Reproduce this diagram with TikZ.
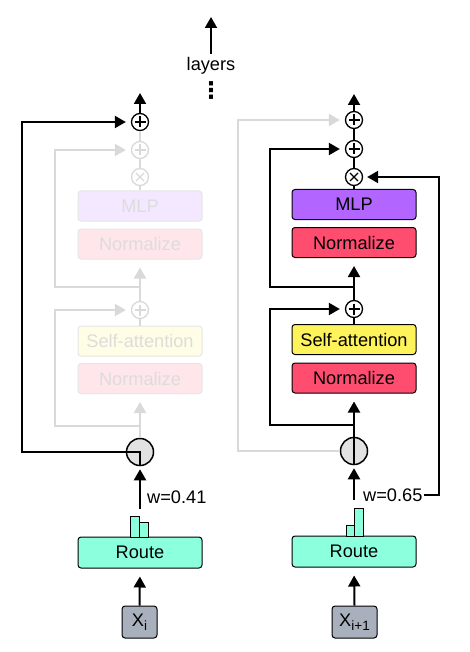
\documentclass[tikz,border=0pt]{standalone}
\usepackage{fontspec}
\setmainfont{Liberation Sans}
\newfontfamily\dejavu{DejaVu Sans}
\usetikzlibrary{arrows.meta}
\definecolor{routec}{HTML}{8CFFDC}
\definecolor{mlpc}{HTML}{B266FF}
\definecolor{normc}{HTML}{FF4D70}
\definecolor{attc}{HTML}{FFF35C}
\definecolor{xc}{HTML}{A9B0BD}
\definecolor{circc}{HTML}{E2E2E2}
\definecolor{faintline}{HTML}{D9D9D9}
\definecolor{faintmlp}{HTML}{F3E8FF}
\definecolor{faintnorm}{HTML}{FFE6EB}
\definecolor{faintatt}{HTML}{FFFDE6}
\definecolor{faintborder}{HTML}{E6E6E6}
\definecolor{fainttext}{HTML}{DCDCDC}
\newcommand{\subsc}[1]{\raisebox{-4.5pt}{\fontsize{13.5}{14}\selectfont #1}}
\begin{document}
\begin{tikzpicture}[x=1pt,y=-1pt,
  txt/.style={font=\fontsize{18.2}{20}\selectfont},
  blk/.style={draw, rounded corners=3pt, line width=1pt, minimum width=124pt, minimum height=30pt, inner sep=0pt, txt},
  fnt/.style={blk, draw=faintborder, text=fainttext},
  xbox/.style={draw, rounded corners=3pt, line width=1pt, fill=xc, minimum width=35pt, minimum height=32pt, inner sep=0pt, txt},
  op/.style={circle, draw=#1, line width=1.3pt, minimum size=17pt, inner sep=0pt, fill=white},
  op/.default=black,
  plusop/.style={op=#1, path picture={\draw[line width=1.2pt,#1]
      ([xshift=3pt]path picture bounding box.west) -- ([xshift=-3pt]path picture bounding box.east)
      ([yshift=-3pt]path picture bounding box.north) -- ([yshift=3pt]path picture bounding box.south);}},
  plusop/.default=black,
  timesop/.style={op=#1, path picture={\draw[line width=1.2pt,#1]
      ([xshift=4.5pt,yshift=-4.5pt]path picture bounding box.north west) -- ([xshift=-4.5pt,yshift=4.5pt]path picture bounding box.south east)
      ([xshift=-4.5pt,yshift=-4.5pt]path picture bounding box.north east) -- ([xshift=4.5pt,yshift=4.5pt]path picture bounding box.south west);}},
  timesop/.default=black,
  rcirc/.style={circle, draw, line width=1.5pt, minimum size=27pt, inner sep=0pt, fill=circc},
  ln/.style={line width=2pt},
  arr/.style={ln, -{Triangle[length=11pt,width=12pt]}},
  gln/.style={ln, draw=faintline},
  garr/.style={arr, draw=faintline},
  bar/.style={draw, fill=routec, line width=0.8pt},
  lbl/.style={txt, inner sep=1pt, anchor=west}
]
\fill[white] (0,0) rectangle (470,652);
\useasboundingbox (0,0) rectangle (470,652);

% top
\coordinate (tb) at (211,54);
\coordinate (tt) at (211,17);
\draw[arr] (tb) -- (tt);
\node[txt, inner sep=0pt] (lay) at (211,66) {layers};
\node[inner sep=0pt, font=\dejavu\fontsize{23}{23}\selectfont\bfseries] (dots) at (211,91) {⋮};

% ---------------- left column ----------------
\node[plusop] (lp1) at (140,122) {};
\node[plusop=faintline] (lp2) at (140,150) {};
\node[timesop=faintline] (lt) at (140,177) {};
\node[fnt, fill=faintmlp] (lmlp) at (140,206) {MLP};
\node[fnt, fill=faintnorm] (lnorm1) at (140,244) {Normalize};
\node[plusop=faintline] (lp3) at (140,310) {};
\node[fnt, fill=faintatt] (latt) at (140,341) {Self-attention};
\node[fnt, fill=faintnorm] (lnorm2) at (140,378.5) {Normalize};
\node[rcirc] (lc) at (140,452) {};
\node[blk, fill=routec, minimum height=31pt] (lroute) at (140,552.5) {Route};
\node[xbox] (lx) at (139.5,622) {X\subsc{i}};
\node[lbl] (lwl) at (146,497) {w=0.41};

\coordinate (ltop) at (140,93);
\coordinate (lj1) at (140,287);
\coordinate (lk1) at (55,150);
\coordinate (lj2) at (140,426);
\coordinate (lk2) at (55,310);
\coordinate (lk0) at (22,122);
\coordinate (lw) at (140,509);

\draw[arr] (lp1.north) -- (ltop);
\draw[gln] (lp1.south) -- (lp2.north);
\draw[gln] (lp2.south) -- (lt.north);
\draw[gln] (lt.south) -- (lmlp.north);
\draw[garr, shorten >=8pt] (lp3.north) -- (lnorm1.south);
\draw[garr, shorten >=5pt] (lj1) -| (lk1) -- (lp2.west);
\draw[gln] (latt.north) -- (lp3.south);
\draw[garr, shorten >=8pt] (lc.north) -- (lnorm2.south);
\draw[garr, shorten >=5pt] (lj2) -| (lk2) -- (lp3.west);
\draw[arr, shorten >=5pt] (lc.south) -- (lc.center) -- (lc.center -| lk0) -- (lk0) -- (lp1.west);
\draw[arr, shorten >=3pt] (lw) -- (lc.south);
\draw[arr, shorten >=8pt] (lx.north) -- (lroute.south);
\draw[bar] (130,516) rectangle (139,537);
\draw[bar] (139,522) rectangle (148,537);

% ---------------- right column ----------------
\node[plusop] (rp1) at (354,120) {};
\node[plusop] (rp2) at (354,149) {};
\node[timesop] (rt) at (354,177) {};
\node[blk, fill=mlpc] (rmlp) at (354,204.5) {MLP};
\node[blk, fill=normc] (rnorm1) at (354,242.5) {Normalize};
\node[plusop] (rp3) at (354,309) {};
\node[blk, fill=attc] (ratt) at (354,339.5) {Self-attention};
\node[blk, fill=normc] (rnorm2) at (354,378) {Normalize};
\node[rcirc] (rc) at (354,451) {};
\node[blk, fill=routec, minimum height=31pt] (rroute) at (354,551.5) {Route};
\node[xbox, minimum width=45pt] (rx) at (354.5,622) {X\subsc{i+1}};
\node[lbl] (rwl) at (362,495) {w=0.65};

\coordinate (rtop) at (354,94);
\coordinate (rj1) at (354,287);
\coordinate (rk1) at (270,149);
\coordinate (rj2) at (354,425);
\coordinate (rk2) at (270,309);
\coordinate (rg) at (238,120);
\coordinate (rw) at (354,500);
\coordinate (rr) at (439,177);

\draw[garr, shorten >=5pt] (rc.west) -- (rc.west -| rg) -- (rg) -- (rp1.west);
\draw[arr] (rp1.north) -- (rtop);
\draw[ln] (rp1.south) -- (rp2.north);
\draw[ln] (rp2.south) -- (rt.north);
\draw[ln] (rt.south) -- (rmlp.north);
\draw[arr, shorten >=8pt] (rp3.north) -- (rnorm1.south);
\draw[arr, shorten >=5pt] (rj1) -| (rk1) -- (rp2.west);
\draw[ln] (ratt.north) -- (rp3.south);
\draw[arr, shorten >=8pt] (rc.south) -- (rnorm2.south);
\draw[arr, shorten >=5pt] (rj2) -| (rk2) -- (rp3.west);
\draw[arr, shorten >=3pt] (rw) -- (rc.south);
\draw[arr, shorten >=8pt] (rx.north) -- (rroute.south);
\draw[arr, shorten >=4pt] (rwl.east) -| (rr) -- (rt.east);
\draw[bar] (346,525) rectangle (354,536);
\draw[bar] (354,508) rectangle (363,536);
\end{tikzpicture}
\end{document}
